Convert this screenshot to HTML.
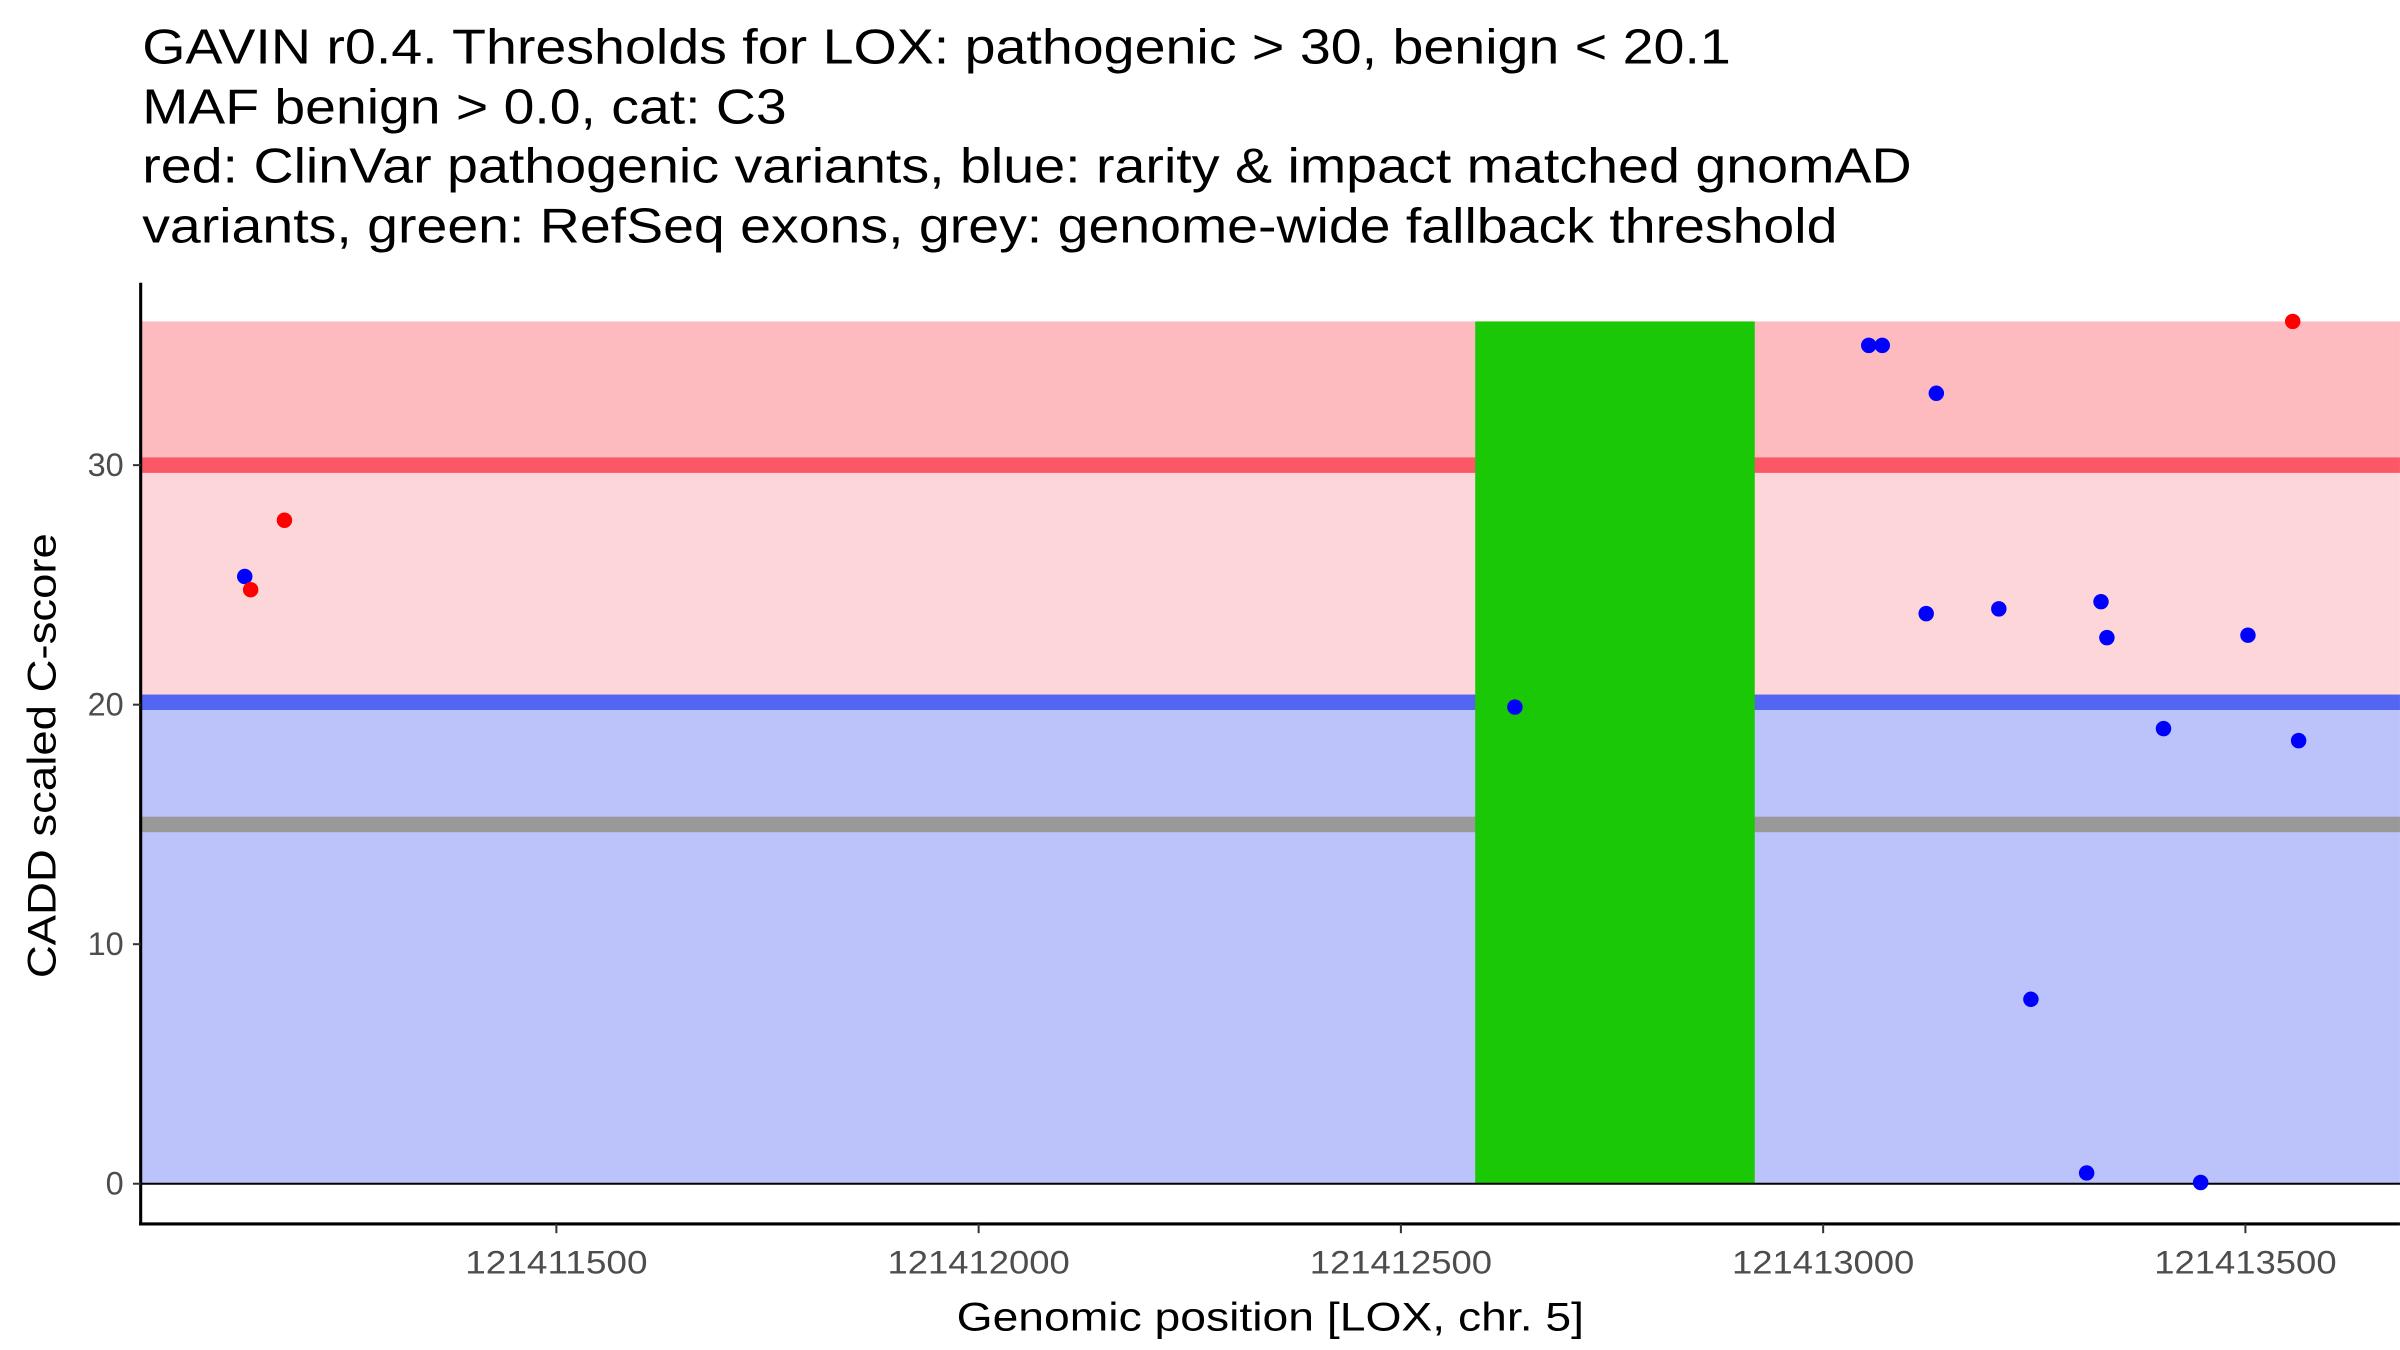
<!DOCTYPE html>
<html><head><meta charset="utf-8"><style>
html,body{margin:0;padding:0;background:#fff;}
svg{display:block;font-family:"Liberation Sans",Arial,sans-serif;}
</style></head><body>
<svg id="chart" width="2400" height="1350" viewBox="0 0 1553 873.6" xmlns="http://www.w3.org/2000/svg">
<g font-size="32" fill="#000">
<text x="92" y="41" textLength="1028" lengthAdjust="spacingAndGlyphs">GAVIN r0.4. Thresholds for LOX: pathogenic &gt; 30, benign &lt; 20.1</text>
<text x="92" y="80" textLength="417" lengthAdjust="spacingAndGlyphs">MAF benign &gt; 0.0, cat: C3</text>
<text x="92" y="118" textLength="1145" lengthAdjust="spacingAndGlyphs">red: ClinVar pathogenic variants, blue: rarity &amp; impact matched gnomAD</text>
<text x="92" y="157" textLength="1097" lengthAdjust="spacingAndGlyphs">variants, green: RefSeq exons, grey: genome-wide fallback threshold</text>
</g>
<g id="plot"></g>
<text x="822" y="861" font-size="26" text-anchor="middle" textLength="406" lengthAdjust="spacingAndGlyphs">Genomic position [LOX, chr. 5]</text>
<text transform="translate(36,489) rotate(-90)" font-size="26" text-anchor="middle" textLength="288" lengthAdjust="spacingAndGlyphs">CADD scaled C-score</text>
</svg>
<script>
const xTicks=[121411500,121412000,121412500,121413000,121413500];
const yTicks=[0,10,20,30];
const pathThreshold=30, benignThreshold=20.1, fallbackThreshold=15, yMax=36;
const exonStart=121412588, exonEnd=121412919;
const redX=[121411138,121411178,121413556];
const redY=[24.8,27.7,36];
const blueX=[121411131,121412635,121413054,121413070,121413134,121413122,121413208,121413246,121413312,121413329,121413336,121413403,121413447,121413503,121413563];
const blueY=[25.35,19.9,35.0,35.0,33.0,23.8,24.0,7.7,0.45,24.3,22.8,19.0,0.05,22.9,18.5];

const L=91,R=1553,B=792;
const sx=v=>360+(v-121411500)*0.5465;
const sy=v=>766-v*15.5;
const ns="http://www.w3.org/2000/svg";
const g=document.getElementById('plot');
function mk(t,a){const e=document.createElementNS(ns,t);for(const k in a)e.setAttribute(k,a[k]);g.appendChild(e);return e;}
let e;
e=mk('rect',{x:L,y:sy(yMax),width:R-L,height:sy(pathThreshold)-sy(yMax),fill:'#FDBBC0'});


e=mk('rect',{x:L,y:sy(pathThreshold),width:R-L,height:sy(benignThreshold)-sy(pathThreshold),fill:'#FDD6DA'});


e=mk('rect',{x:L,y:sy(benignThreshold),width:R-L,height:sy(0)-sy(benignThreshold),fill:'#BBC3FA'});


e=mk('rect',{x:L,y:sy(pathThreshold)-5,width:R-L,height:10,fill:'#FB5766'});


e=mk('rect',{x:L,y:sy(benignThreshold)-5,width:R-L,height:10,fill:'#5366F1'});


e=mk('rect',{x:L,y:sy(fallbackThreshold)-5,width:R-L,height:10,fill:'#999999'});


e=mk('rect',{x:sx(exonStart),y:sy(yMax),width:sx(exonEnd)-sx(exonStart),height:sy(0)-sy(yMax),fill:'#1AC806'});


e=mk('line',{x1:L,x2:R,y1:sy(0),y2:sy(0),stroke:'#000','stroke-width':1.3});


blueX.forEach((x,i)=>{const c=mk('circle',{cx:sx(x),cy:sy(blueY[i]),r:5,fill:'#0000FF'});

});
redX.forEach((x,i)=>{const c=mk('circle',{cx:sx(x),cy:sy(redY[i]),r:5,fill:'#FF0000'});

});
e=mk('line',{x1:L,x2:L,y1:183,y2:B+1,stroke:'#000','stroke-width':2});


e=mk('line',{x1:L-1,x2:R,y1:B,y2:B,stroke:'#000','stroke-width':2});


yTicks.forEach(v=>{const y=sy(v);
const t=mk('line',{x1:L-5,x2:L,y1:y,y2:y,stroke:'#333','stroke-width':1.3});


const l=mk('text',{x:L-11,y:y+7,'font-size':21,'text-anchor':'end',fill:'#4d4d4d'});l.textContent=v;

});
xTicks.forEach(v=>{const x=sx(v);
const t=mk('line',{x1:x,x2:x,y1:B,y2:B+6,stroke:'#333','stroke-width':1.3});


const l=mk('text',{x:x,y:B+32,'font-size':21,'text-anchor':'middle',fill:'#4d4d4d',textLength:118,lengthAdjust:'spacingAndGlyphs'});l.textContent=v;

});
</script>
</body></html>
